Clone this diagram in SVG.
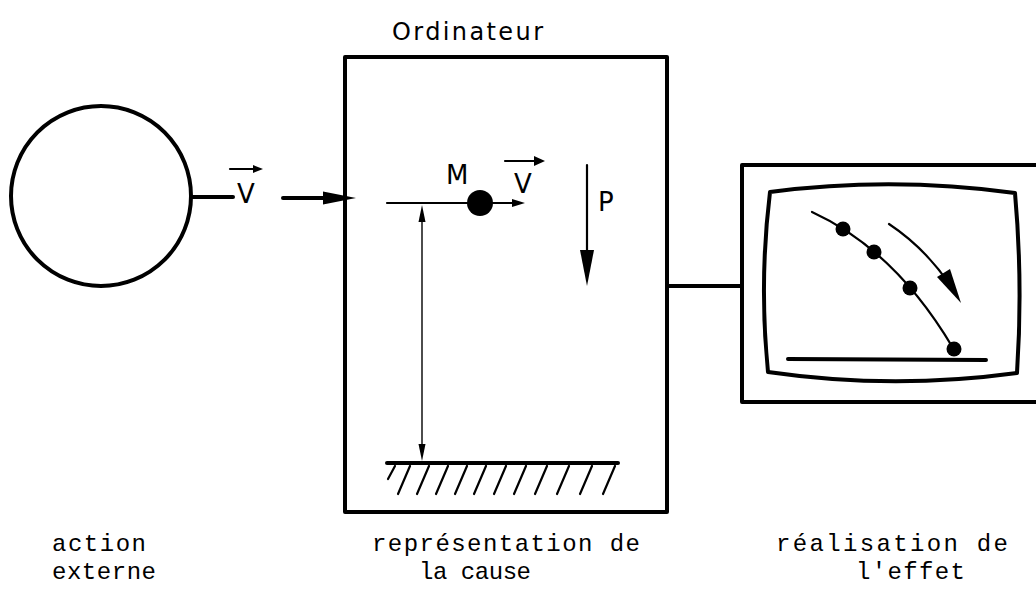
<svg xmlns="http://www.w3.org/2000/svg" width="1036" height="592" viewBox="0 0 1036 592">
<style>
.thick{fill:none;stroke:#000;stroke-width:4;stroke-linecap:round;stroke-linejoin:round}
.med{fill:none;stroke:#000;stroke-width:2.2;stroke-linecap:round}
.thin{fill:none;stroke:#000;stroke-width:1.4}
.head{fill:#000;stroke:none}
.lbl{font-family:"Liberation Mono","DejaVu Sans Mono",monospace;font-size:24px;fill:#000}
.sym{font-family:"DejaVu Sans","Liberation Sans",sans-serif;font-size:26px;fill:#000}
.hand{font-family:"DejaVu Sans","Liberation Sans",sans-serif;font-size:24px;fill:#000}
</style>
<rect width="1036" height="592" fill="#fff"/>

<g id="external-action">
  <circle cx="101" cy="196" r="90" class="thick"/>
  <text x="52" y="551" class="lbl" textLength="94">action</text>
  <text x="52" y="579" class="lbl" textLength="104">externe</text>
</g>

<g id="velocity-label-left">
  <text x="237" y="203" class="sym">V</text>
  <line x1="230" y1="169" x2="256" y2="169" class="med"/>
  <polygon points="263,169 253,165 253,173" class="head"/>
</g>

<g id="computer">
  <text x="392" y="40" class="hand" textLength="151">Ordinateur</text>
  <rect x="345" y="57" width="322" height="455" class="thick"/>
  <line x1="387" y1="203" x2="467" y2="203" class="med"/>
  <circle cx="480" cy="203" r="13" fill="#000"/>
  <line x1="493" y1="203" x2="515" y2="203" class="med"/>
  <polygon points="525,203 512,199 512,207" class="head"/>
  <text x="446" y="184" class="sym">M</text>
  <text x="514" y="193" class="sym">V</text>
  <line x1="505" y1="161" x2="537" y2="161" class="med"/>
  <polygon points="545,161 534,156 534,166" class="head"/>
  <line x1="587" y1="165" x2="587" y2="255" class="med"/>
  <polygon points="587,286 580,250 594,250" class="head"/>
  <text x="598" y="211" class="sym">P</text>
  <line x1="422" y1="215" x2="422" y2="452" class="thin"/>
  <polygon points="422,205 418.5,222 425.5,222" class="head"/>
  <polygon points="422,461 418.5,444 425.5,444" class="head"/>
  <line x1="387" y1="463" x2="618" y2="463" class="thick"/>
  <g class="med" stroke-width="1.8">
    <line x1="395" y1="466" x2="388" y2="479"/>
    <line x1="410" y1="466" x2="398" y2="494"/>
    <line x1="429" y1="466" x2="417" y2="494"/>
    <line x1="448" y1="466" x2="436" y2="494"/>
    <line x1="467" y1="466" x2="455" y2="494"/>
    <line x1="486" y1="466" x2="474" y2="494"/>
    <line x1="506" y1="466" x2="494" y2="494"/>
    <line x1="526" y1="466" x2="514" y2="494"/>
    <line x1="547" y1="466" x2="535" y2="494"/>
    <line x1="569" y1="466" x2="557" y2="494"/>
    <line x1="592" y1="466" x2="580" y2="494"/>
    <line x1="615" y1="466" x2="603" y2="494"/>
  </g>
  <text x="372" y="551" class="lbl" textLength="268">représentation de</text>
  <text x="419" y="579" class="lbl" textLength="112">la cause</text>
</g>

<g id="display">
  <rect x="742" y="165" width="310" height="237" class="thick"/>
  <path d="M770,192 Q892,176 1015,193 Q1023,283 1017,373 Q892,390 768,372 Q759,282 770,192 Z" class="thick" stroke-width="3.5"/>
  <path d="M812,212 Q895,250 953,348" class="med" stroke-width="2"/>
  <circle cx="843" cy="229" r="7.5" fill="#000"/>
  <circle cx="874" cy="252" r="7.5" fill="#000"/>
  <circle cx="910" cy="288" r="7.5" fill="#000"/>
  <circle cx="954" cy="349" r="7.5" fill="#000"/>
  <path d="M889,224 Q925,248 950,285" class="med" stroke-width="2"/>
  <polygon points="961,303 937,277 950,269" class="head"/>
  <line x1="788" y1="359" x2="986" y2="360" class="thick" stroke-width="3.5"/>
  <text x="776" y="551" class="lbl" textLength="232">réalisation de</text>
  <text x="856" y="579" class="lbl" textLength="109">l'effet</text>
</g>

<g id="connectors">
  <line x1="191" y1="197" x2="233" y2="197" class="thick"/>
  <line x1="283" y1="198" x2="330" y2="198" class="thick"/>
  <polygon points="356,198 323,191.5 323,204.5" class="head"/>
  <line x1="667" y1="286" x2="742" y2="286" class="thick" stroke-width="3.5"/>
</g>
</svg>
